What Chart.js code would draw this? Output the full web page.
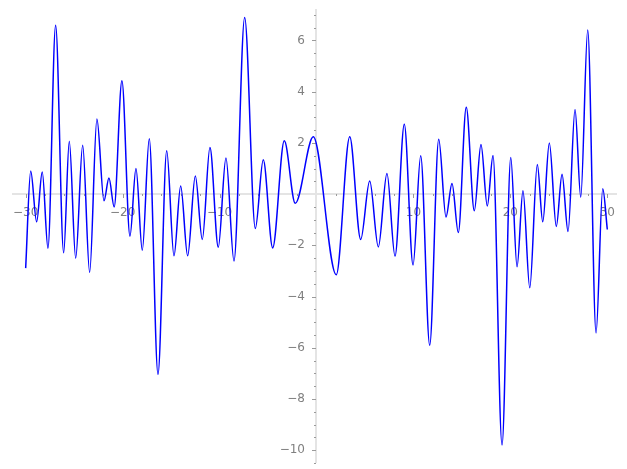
<!DOCTYPE html>
<html>
<head>
<meta charset="utf-8">
<script src="https://cdn.jsdelivr.net/npm/chart.js@4/dist/chart.umd.min.js"></script>
<style>
  html, body { margin: 0; padding: 0; background: #fff; }
</style>
</head>
<body>
<canvas id="plot" width="627" height="469"></canvas>
<script>
// curve: start, every turning point, end
const xVals = [-30, -29.48, -28.87, -28.29, -27.70, -26.91, -26.08, -25.50, -24.84, -24.12,
  -23.40, -22.65, -21.92, -21.41, -20.87, -20.07, -19.24, -18.62, -17.97, -17.25,
  -16.35, -15.45, -14.70, -14.01, -13.29, -12.50, -11.78, -10.99, -10.13, -9.34,
  -8.51, -7.41, -6.31, -5.49, -4.52, -3.32, -2.19, -0.33, 2.04, 3.43,
  4.56, 5.49, 6.38, 7.27, 8.10, 9.06, 9.96, 10.75, 11.68, 12.61,
  13.36, 13.98, 14.63, 15.45, 16.28, 16.97, 17.62, 18.21, 19.14, 20.04,
  20.69, 21.30, 22.00, 22.78, 23.34, 24.02, 24.74, 25.33, 25.95, 26.67,
  27.26, 27.98, 28.84, 29.53, 30];
const yVals = [-2.89, 0.90, -1.08, 0.86, -2.11, 6.60, -2.29, 2.07, -2.50, 1.91,
  -3.05, 2.93, -0.26, 0.63, -0.50, 4.43, -1.64, 1.00, -2.19, 2.16,
  -7.04, 1.69, -2.41, 0.32, -2.41, 0.71, -1.77, 1.82, -2.07, 1.41,
  -2.61, 6.90, -1.34, 1.34, -2.10, 2.08, -0.36, 2.24, -3.15, 2.24,
  -1.77, 0.51, -2.06, 0.81, -2.42, 2.73, -2.77, 1.50, -5.90, 2.14,
  -0.89, 0.42, -1.50, 3.39, -0.65, 1.94, -0.46, 1.51, -9.80, 1.43,
  -2.84, 0.13, -3.66, 1.16, -1.08, 2.00, -1.26, 0.78, -1.46, 3.31,
  -0.12, 6.41, -5.42, 0.21, -1.38];

const xTicks = [-30, -20, -10, 10, 20, 30];
const yTicks = [-10, -8, -6, -4, -2, 2, 4, 6];
const xMinorStep = 2;
const yMinorStep = 0.5;

const fmt = v => (v < 0 ? '\u2212' + Math.abs(v) : String(v));

// axes crossing at the origin, drawn from the chart's own scales
const centerAxes = {
  id: 'centerAxes',
  beforeDatasetsDraw(chart) {
    const { ctx, chartArea: a, scales: { x, y } } = chart;
    const x0 = Math.round(x.getPixelForValue(0));
    const y0 = Math.round(y.getPixelForValue(0));
    ctx.save();
    ctx.strokeStyle = '#e4e4e4';
    ctx.lineWidth = 2;
    ctx.beginPath();
    ctx.moveTo(a.left, y0); ctx.lineTo(a.right, y0);
    ctx.moveTo(x0, a.top); ctx.lineTo(x0, a.bottom);
    ctx.stroke();

    ctx.strokeStyle = '#9a9a9a';
    ctx.lineWidth = 1;
    ctx.beginPath();
    for (let v = Math.ceil(x.min / xMinorStep) * xMinorStep; v <= x.max; v += xMinorStep) {
      if (v === 0) continue;
      const px = Math.round(x.getPixelForValue(v)) + 0.5;
      const len = v % 10 === 0 ? 4 : 2;
      ctx.moveTo(px, y0); ctx.lineTo(px, y0 + len);
    }
    for (let v = Math.ceil(y.min / yMinorStep) * yMinorStep; v <= y.max; v += yMinorStep) {
      if (v === 0) continue;
      const py = Math.round(y.getPixelForValue(v)) + 0.5;
      const len = v % 2 === 0 ? 4 : 2;
      ctx.moveTo(x0, py); ctx.lineTo(x0 - len, py);
    }
    ctx.stroke();

    ctx.fillStyle = '#808080';
    ctx.font = '12px "DejaVu Sans"';
    ctx.textAlign = 'center';
    ctx.textBaseline = 'alphabetic';
    xTicks.forEach(v => ctx.fillText(fmt(v), x.getPixelForValue(v), y0 + 22));
    ctx.textAlign = 'right';
    ctx.textBaseline = 'middle';
    yTicks.forEach(v => ctx.fillText(fmt(v), x0 - 11, y.getPixelForValue(v)));
    ctx.restore();
  }
};

new Chart(document.getElementById('plot'), {
  type: 'line',
  data: {
    datasets: [{
      data: xVals.map((v, i) => ({ x: v, y: yVals[i] })),
      borderColor: '#0000ff',
      borderWidth: 1.5,
      pointRadius: 0,
      fill: false,
      cubicInterpolationMode: 'monotone'
    }]
  },
  options: {
    responsive: false,
    animation: false,
    devicePixelRatio: 1,
    layout: { padding: { left: 12, right: 10, top: 9, bottom: 6 } },
    plugins: { legend: { display: false }, tooltip: { enabled: false } },
    scales: {
      x: { type: 'linear', min: -31.41, max: 31.0, display: false },
      y: { type: 'linear', min: -10.5, max: 7.23, display: false }
    }
  },
  plugins: [centerAxes]
});
</script>
</body>
</html>
